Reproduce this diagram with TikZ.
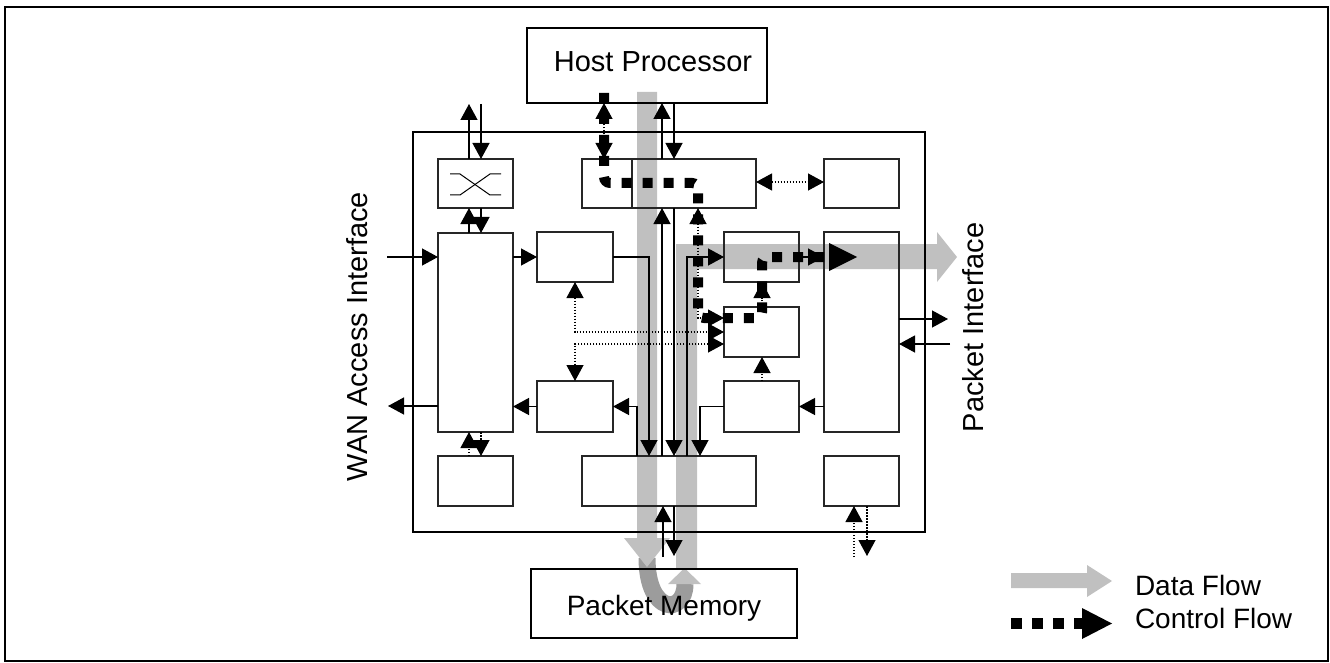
\documentclass[tikz,border=0pt]{standalone}
\usepackage{fontspec}
\setmainfont{Liberation Sans}
\usetikzlibrary{arrows.meta}
\definecolor{lg}{HTML}{C0C0C0}
\definecolor{dg}{HTML}{9C9C9C}
\begin{document}
\begin{tikzpicture}[x=1pt,y=-1pt,
  box/.style={draw=black!85, line width=1.3pt, inner sep=0pt, outer sep=0pt},
  bigbox/.style={draw=black, line width=1.6pt, inner sep=0pt, outer sep=0pt},
  chipbox/.style={draw=black, line width=2.4pt, inner sep=0pt, outer sep=0pt},
  sol/.style={line width=1.3pt, -{Triangle[length=16pt,width=17pt]}},
  dotl/.style={line width=1.2pt, dash pattern=on 1.5pt off 1.5pt, -{Triangle[length=16pt,width=17pt]}},
  dotll/.style={line width=1.2pt, dash pattern=on 1.5pt off 1.5pt, {Triangle[length=16pt,width=17pt]}-{Triangle[length=16pt,width=17pt]}},
  txt/.style={font=\fontsize{28}{33}\selectfont, inner sep=0pt, outer sep=0pt},
  txtb/.style={font=\fontsize{29}{34}\selectfont, inner sep=0pt, outer sep=0pt},
  ctrl/.style={line width=10pt, dash pattern=on 10pt off 11pt},
]
\useasboundingbox (0,0) rectangle (1330,663);
\draw[line width=2pt] (5,7) rectangle (1328,661);

% ---------- data flow (grey) ----------
\draw[dg, line width=17pt] (647,558) .. controls (647,615) and (685,615) .. (685,584);
\fill[lg] (637,92) -- (657,92) -- (657,538) -- (670,538) -- (647,567) -- (624,538) -- (637,538) -- cycle;
\fill[lg] (668,584) -- (701,584) -- (684.5,568) -- cycle;
\fill[lg] (676,568) -- (676,244) -- (937,244) -- (937,232) -- (957,257) -- (937,282) -- (937,269) -- (697,269) -- (697,568) -- cycle;

% ---------- boxes ----------
\node[bigbox, minimum width=240pt, minimum height=75pt] (host) at (647,65.5) {};
\node[bigbox, minimum width=266pt, minimum height=69pt] (mem) at (664,603.5) {};
\node[chipbox, minimum width=512pt, minimum height=400pt] (chip) at (669,332) {};
\node[box, minimum width=75pt, minimum height=49pt] (sw) at (475.5,183.5) {};
\node[box, minimum width=174pt, minimum height=49pt] (tm) at (669,183.5) {};
\node[box, minimum width=75pt, minimum height=49pt] (tr) at (861.5,183.5) {};
\node[box, minimum width=75pt, minimum height=199pt] (lt) at (475.5,332.5) {};
\node[box, minimum width=76pt, minimum height=50pt] (A) at (575,257) {};
\node[box, minimum width=76pt, minimum height=51pt] (B) at (575,406.5) {};
\node[box, minimum width=75pt, minimum height=50pt] (bl) at (475.5,481) {};
\node[box, minimum width=174pt, minimum height=50pt] (bm) at (669,481) {};
\node[box, minimum width=75pt, minimum height=50pt] (br) at (861.5,481) {};
\node[box, minimum width=75pt, minimum height=50pt] (C) at (761.5,257) {};
\node[box, minimum width=75pt, minimum height=50pt] (D) at (761.5,332) {};
\node[box, minimum width=75pt, minimum height=51pt] (E) at (761.5,406.5) {};
\node[box, minimum width=75pt, minimum height=200pt] (rt) at (861.5,332) {};

% column / row helpers
\foreach \c in {469,481,575,604,632,637,649,662,663,674,687,698,700,762,854,867}
  {\coordinate (k\c) at (\c,0);}
\foreach \r in {182,257,318,319,332,344,406}
  {\coordinate (r\r) at (0,\r);}

% divider and switch symbol
\draw[black!85, line width=1.3pt] (k632 |- tm.north) -- (k632 |- tm.south);
\draw[line width=1pt] (450,174) -- (460,174) -- (490,195) -- (501,195);
\draw[line width=1pt] (450,195) -- (460,195) -- (490,174) -- (501,174);

% ---------- solid connectors ----------
\coordinate (swout) at (469,104);
\coordinate (swin) at (481,104);
\draw[sol] (k469 |- sw.north) -- (swout);
\draw[sol] (swin) -- (k481 |- sw.north);
\draw[sol] (k469 |- lt.north) -- (k469 |- sw.south);
\draw[sol] (k481 |- sw.south) -- (k481 |- lt.north);
\coordinate (wanin) at (387,257);
\coordinate (wanout) at (388,406);
\draw[sol] (wanin) -- (lt.west |- r257);
\draw[sol] (lt.west |- r406) -- (wanout);
\draw[sol] (lt.east |- A.west) -- (A.west);
\draw[sol] (B.west) -- (lt.east |- B.west);
\draw[sol] (A.east) -| (k649 |- bm.north);
\draw[sol] (k637 |- bm.north) |- (B.east);
\draw[sol] (k662 |- bm.north) -- (k662 |- tm.south);
\draw[sol] (k674 |- tm.south) -- (k674 |- bm.north);
\draw[sol] (k687 |- bm.north) |- (C.west);
\draw[sol] (E.west) -| (k700 |- bm.north);
\draw[sol] (k662 |- tm.north) -- (k662 |- host.south);
\draw[sol] (k674 |- host.south) -- (k674 |- tm.north);
\draw[sol] (C.east) -- (rt.west |- C.east);
\draw[sol] (rt.west |- E.east) -- (E.east);
\coordinate (piout) at (948,319);
\coordinate (piin) at (950,344);
\draw[sol] (rt.east |- piout) -- (piout);
\draw[sol] (piin) -- (rt.east |- piin);
\coordinate (memup) at (663,557);
\coordinate (memdn) at (674,556);
\draw[sol] (memup) -- (memup |- bm.south);
\draw[sol] (memdn |- bm.south) -- (memdn);

% ---------- dotted connectors ----------
\draw[dotl] (k469 |- bl.north) -- (k469 |- lt.south);
\draw[dotl] (k481 |- lt.south) -- (k481 |- bl.north);
\draw[dotll] (k604 |- tm.north) -- (k604 |- host.south);
\draw[dotll] (tm.east |- r182) -- (tr.west |- r182);
\draw[dotll] (A.south) |- (D.west |- r332);
\draw[dotll] (D.west |- r344) -| (B.north);
\draw[dotll] (k698 |- tm.south) |- (D.west |- r318);
\draw[dotl] (k762 |- E.north) -- (k762 |- D.south);
\draw[dotl] (k762 |- D.north) -- (k762 |- C.south);
\coordinate (brin) at (854,557);
\coordinate (brout) at (867,556);
\draw[dotl] (brin) -- (brin |- br.south);
\draw[dotl] (brout |- br.south) -- (brout);

% ---------- control flow ----------
\draw[ctrl, rounded corners=6pt] (604,93) -- (604,183) -- (698,183) -- (698,318) -- (762,318) -- (762,257) -- (829,257);
\fill (829,243) -- (857,257) -- (829,271) -- cycle;

% ---------- texts ----------
\node[txtb, anchor=base] at (653,72) {Host Processor};
\node[txt, anchor=base] at (664,615) {Packet Memory};
\node[txtb, rotate=90, anchor=base west] at (367,481) {WAN Access Interface};
\node[txtb, rotate=90, anchor=base west] at (983,432) {Packet Interface};

% ---------- legend ----------
\fill[lg] (1011,573) -- (1087,573) -- (1087,565) -- (1112,581) -- (1087,597) -- (1087,588) -- (1011,588) -- cycle;
\draw[line width=11pt, dash pattern=on 11pt off 10pt] (1011,623.5) -- (1084,623.5);
\fill (1082,608) -- (1112,623.5) -- (1082,639) -- cycle;
\node[txt, anchor=base west] at (1135,595) {Data Flow};
\node[txt, anchor=base west] at (1135,628) {Control Flow};
\end{tikzpicture}
\end{document}
